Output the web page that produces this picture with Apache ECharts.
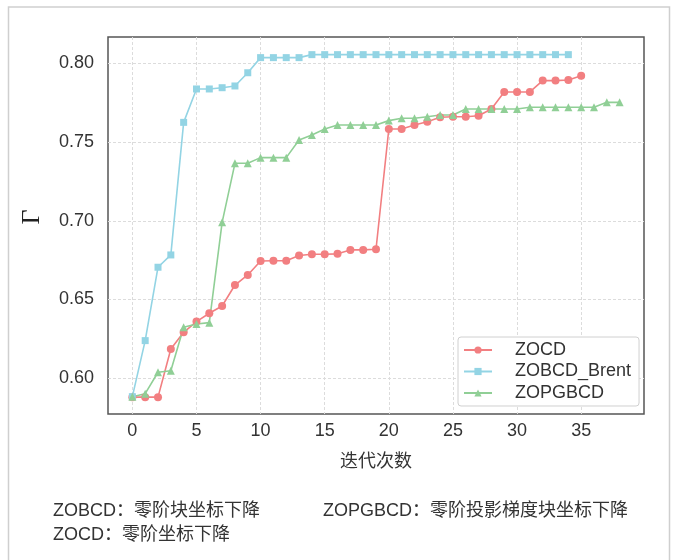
<!DOCTYPE html>
<html>
<head>
<meta charset="utf-8">
<script src="https://cdn.jsdelivr.net/npm/echarts@6/dist/echarts.min.js"></script>
<style>
  html, body { margin: 0; padding: 0; background: #fff; }
  #chart { width: 676px; height: 560px; }
</style>
</head>
<body>
<div id="chart"></div>
<script>
// Objective value Γ per iteration for the three coordinate-descent variants
const zocd = [0.588, 0.588, 0.588, 0.6186, 0.6292, 0.636, 0.6413, 0.6459, 0.6592, 0.6656,
  0.6745, 0.6746, 0.6746, 0.6779, 0.6787, 0.6787, 0.679, 0.6815, 0.6815, 0.6819,
  0.7583, 0.7583, 0.7608, 0.7629, 0.7657, 0.7661, 0.7661, 0.7667, 0.771, 0.7818,
  0.7818, 0.7818, 0.789, 0.789, 0.7894, 0.7921];
const zobcdBrent = [0.5883, 0.6239, 0.6705, 0.6783, 0.7625, 0.7837, 0.7837, 0.7845, 0.7856, 0.794,
  0.8036, 0.8036, 0.8036, 0.8036, 0.8055, 0.8055, 0.8055, 0.8055, 0.8055, 0.8055,
  0.8055, 0.8055, 0.8055, 0.8055, 0.8055, 0.8055, 0.8055, 0.8055, 0.8055, 0.8055,
  0.8055, 0.8055, 0.8055, 0.8055, 0.8055];
const zopgbcd = [0.5883, 0.5902, 0.6038, 0.6048, 0.6324, 0.6345, 0.6353, 0.699, 0.7365, 0.7365,
  0.7401, 0.7401, 0.7401, 0.7513, 0.7545, 0.7583, 0.7608, 0.7608, 0.7608, 0.7608,
  0.7636, 0.7651, 0.7651, 0.7661, 0.7672, 0.7672, 0.771, 0.771, 0.771, 0.771,
  0.771, 0.7721, 0.7721, 0.7721, 0.7721, 0.7721, 0.7721, 0.7752, 0.7752];

const seriesNames = ['ZOCD', 'ZOBCD_Brent', 'ZOPGBCD'];
const xTicks = [0, 5, 10, 15, 20, 25, 30, 35];
const yTicks = [0.60, 0.65, 0.70, 0.75, 0.80];
const xAxisTitle = '迭代次数';
const yAxisTitle = 'Γ';
const notes = ['ZOBCD：零阶块坐标下降', 'ZOPGBCD：零阶投影梯度块坐标下降', 'ZOCD：零阶坐标下降'];

const FONT = '"Liberation Sans", "Noto Sans CJK SC", sans-serif';
const toPairs = arr => arr.map((v, i) => [i, v]);

const chart = echarts.init(document.getElementById('chart'), null, { renderer: 'canvas' });

function lineSeries(name, values, color, symbol, size) {
  return {
    name: name,
    type: 'line',
    data: toPairs(values),
    symbol: symbol,
    symbolSize: size,
    showAllSymbol: true,
    lineStyle: { color: color, width: 1.6 },
    itemStyle: { color: color },
    emphasis: { disabled: true },
    animation: false
  };
}

chart.setOption({
  backgroundColor: '#fff',
  animation: false,
  grid: {
    left: 108, top: 37, right: 32, bottom: 146,
    show: true, borderColor: '#555', borderWidth: 1.5, backgroundColor: 'transparent'
  },
  xAxis: {
    type: 'value',
    min: -1.9, max: 39.9,
    name: xAxisTitle,
    nameLocation: 'middle',
    nameGap: 39,
    nameTextStyle: { fontFamily: FONT, fontSize: 18, color: '#333' },
    axisLine: { show: false },
    axisTick: { show: false, customValues: xTicks },
    axisLabel: { customValues: xTicks, fontFamily: FONT, fontSize: 18, color: '#333', margin: 8 },
    splitLine: { show: true, lineStyle: { color: '#dcdcdc', width: 1, type: [3, 2] } }
  },
  yAxis: {
    type: 'value',
    min: 0.5773, max: 0.8167,
    axisLine: { show: false },
    axisTick: { show: false, customValues: yTicks },
    axisLabel: {
      customValues: yTicks, fontFamily: FONT, fontSize: 18, color: '#333', margin: 14,
      formatter: v => v.toFixed(2)
    },
    splitLine: { show: true, lineStyle: { color: '#dcdcdc', width: 1, type: [3, 2] } }
  },
  legend: {
    orient: 'vertical',
    left: 458, top: 337,
    width: 179,
    padding: [4, 8, 4, 5],
    itemWidth: 28, itemHeight: 9, itemGap: 3.5,
    backgroundColor: '#fff',
    borderColor: '#d0d0d0', borderWidth: 1, borderRadius: 3,
    textStyle: { fontFamily: FONT, fontSize: 18, color: '#333', padding: [0, 0, 0, 18] },
    data: seriesNames
  },
  graphic: [
    {
      type: 'rect', silent: true, z: -10,
      shape: { x: 8.5, y: 7, width: 661, height: 600 },
      style: { fill: 'none', stroke: '#cfcfcf', lineWidth: 1.5 }
    },
    {
      type: 'text', silent: true,
      x: 32, y: 217, rotation: Math.PI / 2,
      style: {
        text: yAxisTitle, font: '26px "Liberation Serif", "DejaVu Serif", serif',
        fill: '#222', align: 'center', verticalAlign: 'middle'
      }
    },
    {
      type: 'text', silent: true, left: 53, top: 502,
      style: { text: notes[0], font: '18px ' + FONT, fill: '#333' }
    },
    {
      type: 'text', silent: true, left: 323, top: 502,
      style: { text: notes[1], font: '18px ' + FONT, fill: '#333' }
    },
    {
      type: 'text', silent: true, left: 53, top: 526,
      style: { text: notes[2], font: '18px ' + FONT, fill: '#333' }
    }
  ],
  series: [
    lineSeries(seriesNames[0], zocd, '#F27F81', 'circle', 8),
    lineSeries(seriesNames[1], zobcdBrent, '#93D4E4', 'rect', 7),
    lineSeries(seriesNames[2], zopgbcd, '#90CF96', 'triangle', 8)
  ]
});
</script>
</body>
</html>
